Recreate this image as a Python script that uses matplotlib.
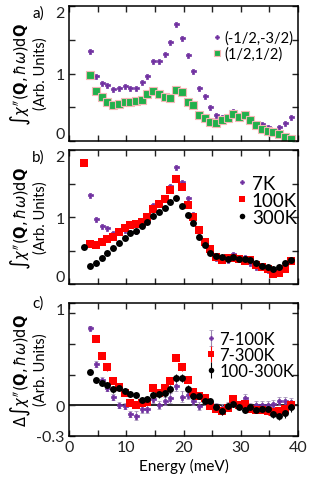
import numpy as np
import matplotlib.pyplot as plt

plt.rcParams['font.family'] = ['Lato', 'DejaVu Sans']
plt.rcParams['mathtext.fontset'] = 'dejavusans'

# energies (meV)
E_a = [3.7, 4.7, 5.7, 6.7, 7.7, 8.7, 9.7, 10.7, 11.7, 12.7, 13.7, 14.7,
       15.7, 16.7, 17.7, 18.7, 19.7, 20.7, 21.7, 22.7, 23.7, 24.7, 25.7,
       26.7, 27.7, 28.7, 29.7, 30.7, 31.7, 32.7, 33.7, 34.7, 35.7, 36.7,
       37.7, 38.7]
E_b = [2.7] + E_a

# panel a
q_m12_m32 = [1.33, 0.97, 0.86, 0.83, 0.765, 0.78, 0.81, 0.78, 0.79, 0.88,
             0.96, 1.18, 1.19, 1.295, 1.46, 1.74, 1.52, 1.28, 1.04, 0.79,
             0.66, 0.50, 0.39, 0.36, 0.36, 0.45, 0.37, 0.41, 0.32, 0.26,
             0.25, 0.21, 0.17, 0.21, 0.26, 0.36]
q_12_12 = [0.98, 0.735, 0.65, 0.58, 0.54, 0.55, 0.575, 0.575, 0.59, 0.605,
           0.69, 0.745, 0.695, 0.65, 0.635, 0.755, 0.73, 0.585, 0.53, 0.39,
           0.34, 0.28, 0.27, 0.31, 0.34, 0.40, 0.35, 0.38, 0.31, 0.24,
           0.18, 0.145, 0.135, 0.10, 0.055, 0.025]

# panel b
t7 = q_m12_m32
t100 = [1.805, 0.60, 0.58, 0.62, 0.67, 0.695, 0.78, 0.84, 0.875, 0.90, 0.93,
        1.0, 1.12, 1.19, 1.27, 1.41, 1.56, 1.45, 1.18, 1.0, 0.81, 0.63, 0.52,
        0.41, 0.36, 0.39, 0.39, 0.37, 0.35, 0.36, 0.28, 0.25, 0.23, 0.15,
        0.17, 0.23, 0.34]
t300 = [0.555, 0.27, 0.32, 0.39, 0.465, 0.535, 0.605, 0.69, 0.765, 0.79,
        0.86, 0.92, 1.01, 1.07, 1.13, 1.23, 1.285, 1.16, 1.03, 0.91, 0.705,
        0.585, 0.47, 0.42, 0.40, 0.38, 0.40, 0.38, 0.37, 0.357, 0.31, 0.27,
        0.26, 0.23, 0.26, 0.31, 0.357]

# panel c (differences)
d7_100 = [0.756, 0.40, 0.25, 0.17, 0.08, 0.0, -0.01, -0.085, -0.10, -0.035,
          -0.035, 0.06, 0.0, 0.04, 0.07, 0.19, 0.085, 0.105, 0.045, -0.01,
          0.04, 0.0, -0.02, -0.03, -0.01, 0.06, 0.0, 0.07, -0.02, 0.0, 0.0,
          0.0, 0.01, 0.04, 0.04, 0.03]
e7_100 = [0.02, 0.03, 0.03, 0.03, 0.03, 0.03, 0.03, 0.03, 0.04, 0.04,
          0.04, 0.04, 0.04, 0.04, 0.05, 0.05, 0.05, 0.04, 0.04, 0.04,
          0.04, 0.04, 0.04, 0.04, 0.04, 0.04, 0.04, 0.04, 0.04, 0.04, 0.04,
          0.04, 0.04, 0.04, 0.04, 0.04]
E_c_red = E_a[1:]
d7_300 = [0.65, 0.48, 0.37, 0.24, 0.18, 0.12, 0.02, 0.0, 0.02, 0.03, 0.17,
          0.12, 0.17, 0.24, 0.46, 0.37, 0.25, 0.13, 0.095, 0.075, -0.01,
          -0.04, -0.06, -0.025, 0.065, 0.0, 0.015, -0.04, -0.045, -0.05,
          -0.06, -0.07, -0.06, -0.04, 0.0]
e7_300 = [0.02, 0.03, 0.03, 0.03, 0.03, 0.03, 0.03, 0.03, 0.03, 0.03, 0.03,
          0.03, 0.03, 0.03, 0.03, 0.03, 0.03, 0.03, 0.03, 0.03, 0.03,
          0.03, 0.03, 0.03, 0.03, 0.03, 0.03, 0.03, 0.03, 0.03,
          0.03, 0.03, 0.03, 0.03, 0.03]
d100_300 = [0.33, 0.25, 0.22, 0.20, 0.155, 0.17, 0.14, 0.11, 0.10, 0.05,
            0.06, 0.105, 0.11, 0.125, 0.16, 0.27, 0.27, 0.16, 0.09, 0.09,
            0.04, 0.045, -0.02, -0.06, -0.01, 0.01, -0.015, -0.05, -0.015,
            -0.05, -0.035, -0.035, -0.085, -0.10, -0.08, -0.015]
e100_300 = [0.02, 0.02, 0.03, 0.03, 0.03, 0.03, 0.03, 0.03, 0.03, 0.03,
            0.03, 0.03, 0.04, 0.04, 0.04, 0.04, 0.04, 0.04, 0.03, 0.03,
            0.03, 0.03, 0.03, 0.03, 0.03, 0.03, 0.03, 0.03, 0.03, 0.03,
            0.04, 0.04, 0.04, 0.04, 0.04, 0.05]

purple = '#7030A0'
green = '#22B04C'
red = '#FF0000'

fig = plt.figure(figsize=(3.1, 4.85), dpi=100)
L, W = 69 / 310, 229 / 310
ax_a = fig.add_axes([L, 1 - 142 / 485, W, 135 / 485])
ax_b = fig.add_axes([L, 1 - 285 / 485, W, 134 / 485])
ax_c = fig.add_axes([L, 1 - 437 / 485, W, 133 / 485])

ylab = r"$\int\chi''(\mathbf{Q},\hbar\omega)\mathrm{d}\mathbf{Q}$" + "\n(Arb. Units)"
ylab_c = (r"$\Delta\int\chi''(\mathbf{Q},\hbar\omega)\mathrm{d}\mathbf{Q}$"
          + "\n(Arb. Units)")

ax_a.plot(E_a, q_m12_m32, 'P', color=purple, ms=3.6, mew=0.5,
          label='(-1/2,-3/2)')
ax_a.plot(E_a, q_12_12, 's', color=green, mec='#F4B6B6', mew=0.8, ms=5.5,
          label='(1/2,1/2)')
ax_a.set_ylim(0, 2)

ax_b.plot(E_a, t7, 'P', color=purple, ms=3.6, mew=0.5, label='7K')
ax_b.plot(E_b, t100, 's', color=red, ms=5.5, mew=0, label='100K')
ax_b.plot(E_b, t300, 'o', color='black', ms=5, mew=0, label='300K')
ax_b.set_ylim(0, 2)

ax_c.axhline(0, color='black', lw=1.2, zorder=1)
ax_c.errorbar(E_a, d7_100, yerr=e7_100, fmt='P', color=purple, ms=3.6,
              mew=0.5, ecolor='#9A86B0', elinewidth=0.8, capsize=1.2,
              label='7-100K')
ax_c.errorbar(E_c_red, d7_300, yerr=e7_300, fmt='s', color=red, ms=5.5,
              mew=0, elinewidth=0.8, capsize=1.2, label='7-300K')
ax_c.errorbar(E_a, d100_300, yerr=e100_300, fmt='o', color='black', ms=5,
              mew=0, elinewidth=0.8, capsize=1.2, label='100-300K')
ax_c.set_ylim(-0.3, 1)

for ax in (ax_a, ax_b, ax_c):
    ax.set_xlim(0, 40)
    ax.set_xticks(range(0, 41, 5))
    ax.tick_params(direction='in', top=True, right=True, length=4,
                   width=1, labelsize=11.5, pad=3, colors='#222222')
    for s in ax.spines.values():
        s.set_linewidth(1.1)

for ax in (ax_a, ax_b):
    ax.set_xticklabels([])
    ax.set_yticks([0, 0.5, 1, 1.5, 2])
    ax.set_yticklabels(['0', '', '1', '', '2'])
    ax.get_yticklabels()[0].set_va('bottom')
    ax.get_yticklabels()[-1].set_va('top')

ax_c.set_xticklabels(['0', '', '10', '', '20', '', '30', '', '40'])
ax_c.set_yticks([-0.3, 0, 0.3, 0.6, 0.9, 1])
ax_c.set_yticklabels(['-0.3', '0', '', '', '', '1'])
ax_c.get_yticklabels()[-1].set_va('top')
ax_c.set_xlabel('Energy (meV)', fontsize=11, labelpad=3)

# y labels placed in figure pixels
for txt, yc in ((ylab, 74), (ylab_c if False else ylab, 218), (ylab_c, 370)):
    fig.text(28 / 310, 1 - yc / 485, txt, rotation=90, ha='center',
             va='center', fontsize=10.5, linespacing=1.05,
             multialignment='center')

ax_a.legend(loc='upper left', bbox_to_anchor=(0.6, 0.86), frameon=False,
            fontsize=10.5, handlelength=0.6, handletextpad=0.2,
            borderaxespad=0, labelspacing=0.1, markerscale=0.8)
ax_b.legend(loc='upper left', bbox_to_anchor=(0.7, 0.87), frameon=False,
            fontsize=13.5, handlelength=0.6, handletextpad=0.2,
            borderaxespad=0, labelspacing=0.0, markerscale=0.8)
ax_c.legend(loc='upper left', bbox_to_anchor=(0.57, 0.84), frameon=False,
            fontsize=12, handlelength=0.6, handletextpad=0.2,
            borderaxespad=0, labelspacing=0.0, markerscale=0.8)

fig.text(38 / 310, 1 - 14 / 485, 'a)', fontsize=11, ha='center', va='center')
fig.text(38 / 310, 1 - 158 / 485, 'b)', fontsize=11, ha='center', va='center')
fig.text(38 / 310, 1 - 304 / 485, 'c)', fontsize=11, ha='center', va='center')

fig.savefig('out.png', dpi=100)
